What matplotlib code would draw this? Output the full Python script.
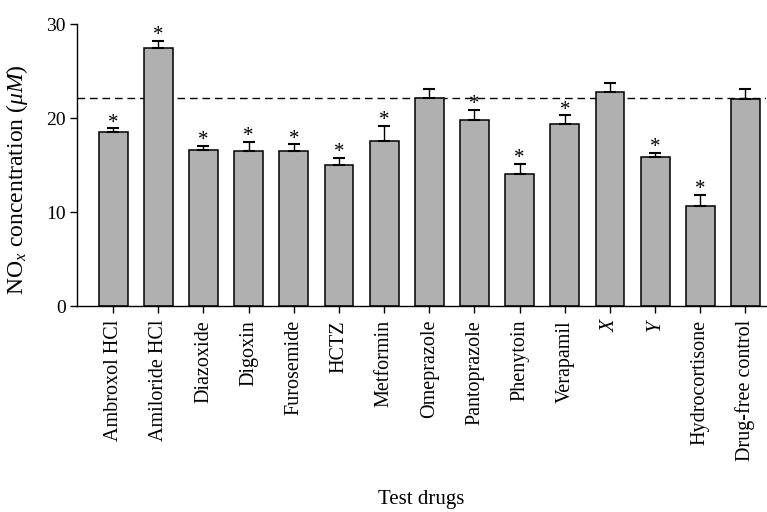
import matplotlib
matplotlib.use("Agg")
import matplotlib.pyplot as plt
import numpy as np

plt.rcParams['font.family'] = ['Liberation Serif', 'DejaVu Serif']
plt.rcParams['mathtext.fontset'] = 'custom'
plt.rcParams['mathtext.rm'] = 'Liberation Serif'
plt.rcParams['mathtext.it'] = 'Liberation Serif:italic'

drugs = ["Ambroxol HCl", "Amiloride HCl", "Diazoxide", "Digoxin", "Furosemide",
         "HCTZ", "Metformin", "Omeprazole", "Pantoprazole", "Phenytoin",
         "Verapamil", "X", "Y", "Hydrocortisone", "Drug-free control"]
nox = [18.55, 27.5, 16.55, 16.5, 16.5, 15.05, 17.6, 22.15, 19.8, 14.0,
       19.4, 22.8, 15.8, 10.65, 22.05]
sem = [0.35, 0.7, 0.5, 1.0, 0.7, 0.7, 1.55, 0.9, 1.1, 1.15,
       0.9, 0.9, 0.5, 1.2, 1.05]
signif = [True, True, True, True, True, True, True, False, True, True,
          True, False, True, True, False]
control_level = 22.1

fig = plt.figure(figsize=(7.67, 5.12), dpi=100)
ax = fig.add_axes([0.1004, 0.4023, 0.898, 0.5508])

x = np.arange(len(drugs))
ax.bar(x, nox, width=0.64, color='#b0b0b0', edgecolor='black', linewidth=1.1, zorder=2)
ax.errorbar(x, nox, yerr=[np.zeros(len(sem)), sem], fmt='none', ecolor='black',
            elinewidth=1.0, capsize=4, capthick=1.5, zorder=3)

ax.axhline(control_level, color='black', lw=1.0, ls=(0, (5.5, 3.5)), zorder=1)

# stars over significant ones
for i in range(len(drugs)):
    if signif[i]:
        ax.annotate('*', (x[i], nox[i] + sem[i]), xytext=(0, 0.5), textcoords='offset points',
                    ha='center', va='baseline', fontsize=15)

ax.set_xlim(-0.8, 14.45)
ax.set_ylim(0, 30)
ax.set_yticks([0, 10, 20, 30])
ax.set_xticks(x)
ax.set_xticklabels(drugs, rotation=90, fontsize=14.5)
for lab in ax.get_xticklabels():
    if lab.get_text() in ('X', 'Y'):
        lab.set_style('italic')
ax.tick_params(axis='y', labelsize=14, length=5, width=1.0, pad=3)
ax.tick_params(axis='x', length=5, width=1.0, pad=5)

ax.spines['top'].set_visible(False)
ax.spines['right'].set_visible(False)
ax.spines['left'].set_linewidth(1.0)
ax.spines['bottom'].set_linewidth(1.0)

ax.set_ylabel(r'NO$_x$ concentration ($\mu$$M$)', fontsize=17)
ax.yaxis.set_label_coords(-0.068, 0.447)
ax.set_xlabel('Test drugs', fontsize=15)
ax.xaxis.set_label_coords(0.5, -0.652)

fig.savefig('out.png', dpi=100)
